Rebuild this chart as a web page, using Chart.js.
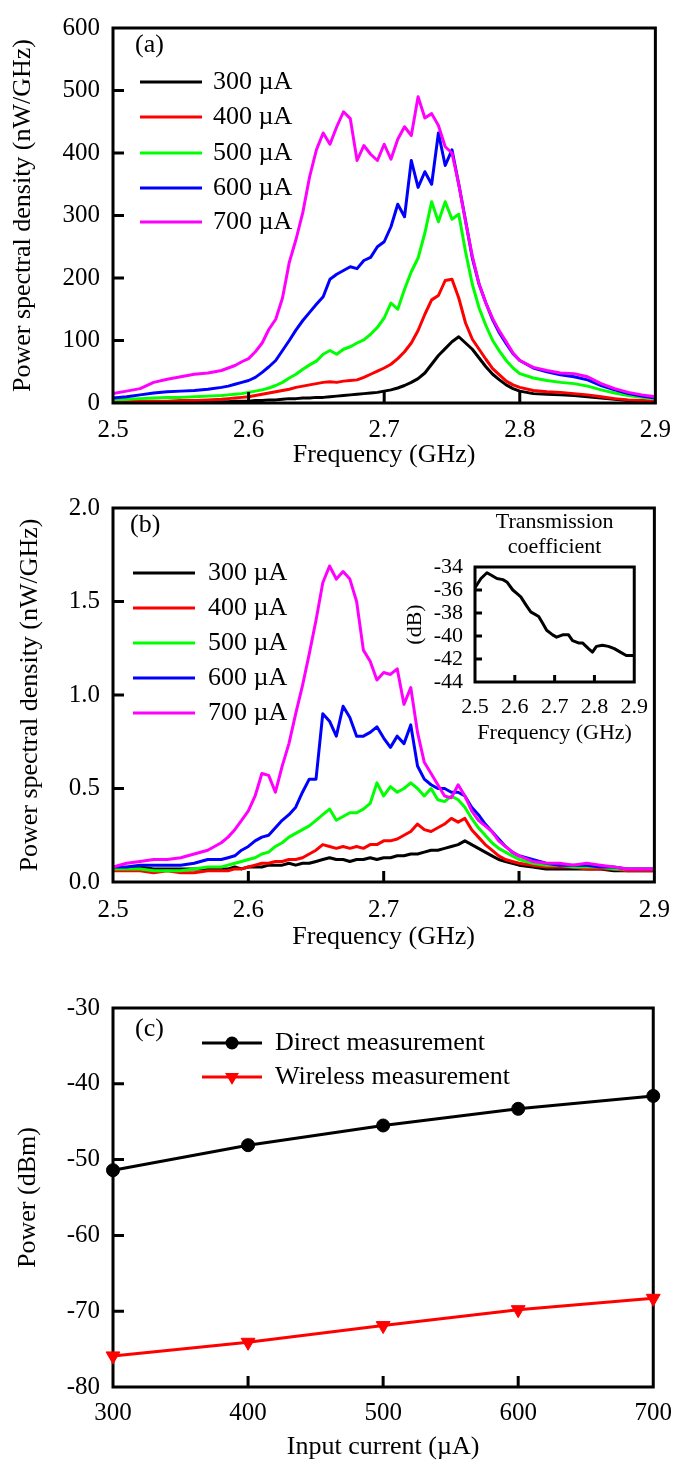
<!DOCTYPE html>
<html>
<head>
<meta charset="utf-8">
<title>Spectra and output power</title>
<script src="https://cdn.jsdelivr.net/npm/chart.js@4.4.1/dist/chart.umd.min.js"></script>
<style>
  html, body { margin: 0; padding: 0; background: #fff; }
  #page { position: relative; width: 683px; height: 1465px; overflow: hidden; }
  #page canvas { position: absolute; left: 0; }
</style>
</head>
<body>
<div id="page">
  <canvas id="chartA" width="683" height="480" style="top:0"></canvas>
  <canvas id="chartB" width="683" height="480" style="top:480px"></canvas>
  <canvas id="chartInset" width="270" height="260" style="top:500px; left:390px"></canvas>
  <canvas id="chartC" width="683" height="485" style="top:980px"></canvas>
</div>
<script>
// frequency samples (GHz), shared by the two spectrum panels
const freqs = [
  2.50, 2.51, 2.52, 2.53, 2.54, 2.55, 2.56, 2.57, 2.58,
  2.585, 2.59, 2.595, 2.60, 2.605, 2.61, 2.615, 2.62, 2.625, 2.63, 2.635,
  2.64, 2.645, 2.65, 2.655, 2.66, 2.665, 2.67, 2.675, 2.68, 2.685, 2.69,
  2.695, 2.70, 2.705, 2.71, 2.715, 2.72, 2.725, 2.73, 2.735, 2.74, 2.745,
  2.75, 2.755, 2.76, 2.765, 2.77, 2.775, 2.78, 2.785, 2.79, 2.795, 2.80,
  2.81, 2.82, 2.83, 2.84, 2.85, 2.86, 2.87, 2.88, 2.89, 2.90
];

const currentLabels = ['300 µA', '400 µA', '500 µA', '600 µA', '700 µA'];
const seriesColors = ['#000000', '#ff0000', '#00ff00', '#0000ff', '#ff00ff'];

// (a) PSD, nW/GHz
const psdA300 = [
  1, 1, 1, 2, 2, 2, 2, 2, 2,
  2, 3, 3, 3, 4, 4, 5, 5, 6, 7, 7,
  8, 8, 9, 9, 10, 11, 12, 13, 14, 15, 16,
  17, 19, 21, 24, 28, 33, 39, 48, 62, 76, 87,
  98, 106, 96, 86, 72, 58, 46, 37, 29, 23, 19,
  15, 14, 13, 12, 10, 8, 6, 4, 3, 2
];
const psdA400 = [
  2, 2, 3, 3, 3, 4, 4, 5, 6,
  7, 8, 9, 10, 12, 14, 16, 18, 20, 22, 25,
  27, 29, 31, 33, 34, 33, 35, 36, 37, 41, 46,
  51, 56, 62, 71, 82, 96, 116, 142, 165, 172, 196,
  198, 168, 128, 102, 86, 70, 55, 45, 35, 29, 25,
  20, 18, 17, 15, 13, 10, 7, 5, 4, 3
];
const psdA500 = [
  5, 6, 7, 8, 9, 9, 10, 11, 12,
  13, 14, 15, 17, 19, 21, 24, 28, 33, 40, 46,
  54, 61, 67, 78, 84, 78, 86, 90, 96, 101, 110,
  121, 136, 160, 150, 182, 210, 232, 272, 322, 290, 322,
  294, 302, 242, 190, 152, 124, 100, 83, 68, 56, 47,
  40, 36, 33, 31, 27, 21, 16, 12, 9, 7
];
const psdA600 = [
  8, 10, 13, 16, 18, 19, 20, 22, 25,
  27, 30, 33, 36, 41, 49, 58, 68, 84, 100, 117,
  132, 145, 158, 170, 198, 206, 212, 218, 215, 228, 233,
  250, 258, 282, 318, 298, 388, 345, 370, 350, 432, 380,
  405, 350, 292, 232, 190, 160, 133, 112, 95, 79, 68,
  56, 50, 45, 42, 37, 28, 21, 15, 11, 8
];
const psdA700 = [
  15, 19, 23, 33, 38, 42, 46, 48, 52,
  56, 60, 66, 71, 82, 96, 118, 134, 168, 225, 262,
  305, 362, 405, 432, 414, 442, 466, 455, 388, 412, 398,
  388, 414, 390, 422, 442, 428, 490, 456, 463, 444, 410,
  400, 350, 290, 235, 190, 160, 135, 115, 98, 80, 68,
  57, 52, 48, 47, 42, 31, 23, 17, 13, 10
];

// (b) PSD after the wireless link, nW/GHz
const psdB300 = [
  0.07, 0.07, 0.08, 0.07, 0.07, 0.07, 0.07, 0.07, 0.07,
  0.07, 0.08, 0.07, 0.08, 0.08, 0.08, 0.09, 0.09, 0.09, 0.10, 0.09,
  0.10, 0.10, 0.11, 0.12, 0.13, 0.12, 0.12, 0.11, 0.12, 0.12, 0.13,
  0.12, 0.13, 0.13, 0.14, 0.14, 0.15, 0.15, 0.16, 0.17, 0.17, 0.18,
  0.19, 0.20, 0.22, 0.20, 0.18, 0.16, 0.14, 0.12, 0.11, 0.10, 0.09,
  0.08, 0.07, 0.07, 0.07, 0.07, 0.07, 0.06, 0.06, 0.06, 0.06
];
const psdB400 = [
  0.06, 0.06, 0.06, 0.05, 0.06, 0.05, 0.05, 0.06, 0.06,
  0.06, 0.07, 0.07, 0.08, 0.09, 0.10, 0.10, 0.11, 0.11, 0.12, 0.12,
  0.13, 0.15, 0.17, 0.20, 0.19, 0.18, 0.19, 0.18, 0.19, 0.18, 0.20,
  0.20, 0.22, 0.22, 0.23, 0.25, 0.27, 0.31, 0.28, 0.27, 0.29, 0.31,
  0.34, 0.32, 0.34, 0.28, 0.24, 0.20, 0.17, 0.14, 0.12, 0.11, 0.10,
  0.09, 0.08, 0.08, 0.08, 0.07, 0.07, 0.07, 0.06, 0.06, 0.06
];
const psdB500 = [
  0.07, 0.07, 0.07, 0.06, 0.06, 0.06, 0.07, 0.08, 0.08,
  0.09, 0.10, 0.11, 0.12, 0.13, 0.15, 0.16, 0.19, 0.21, 0.24, 0.26,
  0.28, 0.30, 0.33, 0.36, 0.39, 0.33, 0.35, 0.37, 0.37, 0.39, 0.42,
  0.53, 0.46, 0.51, 0.48, 0.50, 0.53, 0.50, 0.46, 0.50, 0.44, 0.43,
  0.46, 0.44, 0.40, 0.34, 0.29, 0.25, 0.21, 0.18, 0.16, 0.14, 0.12,
  0.10, 0.09, 0.09, 0.08, 0.08, 0.08, 0.07, 0.07, 0.07, 0.07
];
const psdB600 = [
  0.08, 0.08, 0.09, 0.09, 0.09, 0.09, 0.10, 0.12, 0.12,
  0.13, 0.14, 0.17, 0.19, 0.22, 0.24, 0.25, 0.29, 0.33, 0.36, 0.40,
  0.48, 0.55, 0.55, 0.90, 0.86, 0.78, 0.94, 0.88, 0.78, 0.78, 0.80,
  0.83, 0.77, 0.72, 0.78, 0.74, 0.84, 0.62, 0.55, 0.52, 0.50, 0.50,
  0.48, 0.48, 0.46, 0.40, 0.36, 0.31, 0.27, 0.23, 0.19, 0.16, 0.14,
  0.12, 0.10, 0.09, 0.09, 0.09, 0.08, 0.08, 0.07, 0.07, 0.07
];
const psdB700 = [
  0.08, 0.10, 0.11, 0.12, 0.12, 0.13, 0.15, 0.17, 0.21,
  0.24, 0.28, 0.33, 0.38, 0.46, 0.58, 0.57, 0.48, 0.62, 0.74, 0.90,
  1.05, 1.22, 1.40, 1.60, 1.69, 1.62, 1.66, 1.62, 1.50, 1.24, 1.18,
  1.08, 1.12, 1.11, 1.14, 0.95, 1.04, 0.80, 0.64, 0.58, 0.52, 0.46,
  0.45, 0.52, 0.46, 0.38, 0.33, 0.30, 0.27, 0.22, 0.19, 0.16, 0.14,
  0.11, 0.10, 0.10, 0.09, 0.10, 0.09, 0.08, 0.07, 0.07, 0.07
];

// inset: transmission coefficient of the link
const tcFreqs = [
  2.50, 2.515, 2.53, 2.54, 2.555, 2.57, 2.58, 2.595, 2.605, 2.615, 2.63,
  2.64, 2.66, 2.67, 2.68, 2.695, 2.705, 2.72, 2.735, 2.745, 2.76,
  2.77, 2.785, 2.795, 2.805, 2.82, 2.835, 2.85, 2.865, 2.88, 2.90
];
const tcValues = [
  -35.8, -35.0, -34.5, -34.7, -35.0, -35.1, -35.3, -36.0, -36.3, -36.6, -37.4,
  -37.9, -38.3, -38.9, -39.5, -39.9, -40.1, -39.9, -39.9, -40.4, -40.6,
  -40.6, -41.1, -41.4, -40.9, -40.8, -40.9, -41.1, -41.4, -41.7, -41.7
];

// (c) integrated power vs bias current
const currents = [300, 400, 500, 600, 700];
const directPower = [-51.4, -48.1, -45.5, -43.3, -41.6];
const wirelessPower = [-75.9, -74.1, -71.9, -69.8, -68.3];

// tick labels
const freqTicks = [2.5, 2.6, 2.7, 2.8, 2.9];
const psdTicksA = [0, 100, 200, 300, 400, 500, 600];
const psdTicksB = [0, 0.5, 1.0, 1.5, 2.0];
const dbTicks = [-44, -42, -40, -38, -36, -34];
const currentTicks = [300, 400, 500, 600, 700];
const powerTicks = [-80, -70, -60, -50, -40, -30];

const SERIF = '"Liberation Serif", "Times New Roman", serif';
Chart.defaults.font.family = SERIF;
Chart.defaults.color = '#000';

function fixedTicks(values) {
  return scale => { scale.ticks = values.map(v => ({ value: v })); };
}

function pairs(xs, ys) {
  return xs.map((x, i) => ({ x: x, y: ys[i] }));
}

// closed box round the plot area with inward tick marks
const framePlugin = {
  id: 'frame',
  beforeDatasetsDraw(chart, args, opts) {
    if (opts.under) drawFrame(chart, opts);
  },
  afterDatasetsDraw(chart, args, opts) {
    if (!opts.under) drawFrame(chart, opts);
  }
};

function drawFrame(chart, opts) {
  const { ctx, chartArea: a } = chart;
  const xs = chart.scales.x;
  const ys = chart.scales.y;
  ctx.save();
  ctx.strokeStyle = '#000';
  ctx.lineWidth = opts.width;
  ctx.strokeRect(a.left, a.top, a.right - a.left, a.bottom - a.top);
  ctx.beginPath();
  xs.ticks.forEach(t => {
    const px = xs.getPixelForValue(t.value);
    if (px - a.left < 2 || a.right - px < 2) return;
    ctx.moveTo(px, a.bottom);
    ctx.lineTo(px, a.bottom - opts.tick);
  });
  ys.ticks.forEach(t => {
    const py = ys.getPixelForValue(t.value);
    if (py - a.top < 2 || a.bottom - py < 2) return;
    ctx.moveTo(a.left, py);
    ctx.lineTo(a.left + opts.tick, py);
  });
  ctx.stroke();
  ctx.restore();
}

function drawMarker(ctx, style, x, y, r) {
  ctx.beginPath();
  if (style === 'circle') {
    ctx.arc(x, y, r, 0, Math.PI * 2);
  } else {
    // downward triangle, same geometry as the library's rotated 'triangle'
    let rad = Math.PI;
    for (let k = 0; k < 3; k++) {
      const px = x + Math.sin(rad) * r;
      const py = y - Math.cos(rad) * r;
      if (k === 0) ctx.moveTo(px, py); else ctx.lineTo(px, py);
      rad += Math.PI * 2 / 3;
    }
    ctx.closePath();
  }
  ctx.fill();
}

// panel letter, in-plot key and headings
const keyPlugin = {
  id: 'key',
  afterDraw(chart, args, opts) {
    const ctx = chart.ctx;
    ctx.save();
    ctx.font = opts.size + 'px ' + SERIF;
    ctx.textBaseline = 'middle';
    ctx.fillStyle = '#000';
    if (opts.tag) {
      ctx.textAlign = 'left';
      ctx.fillText(opts.tag, opts.tagX, opts.tagY);
    }
    if (opts.heading) {
      const cx = (chart.chartArea.left + chart.chartArea.right) / 2;
      ctx.textAlign = 'center';
      opts.heading.forEach((line, i) => ctx.fillText(line, cx, opts.headingY[i]));
    }
    ctx.textAlign = 'left';
    (opts.rows || []).forEach((y, i) => {
      const ds = chart.data.datasets[i];
      ctx.strokeStyle = ds.borderColor;
      ctx.lineWidth = 3;
      ctx.lineCap = 'butt';
      ctx.beginPath();
      ctx.moveTo(opts.x0, y);
      ctx.lineTo(opts.x1, y);
      ctx.stroke();
      if (ds.pointRadius > 0) {
        ctx.fillStyle = ds.backgroundColor;
        drawMarker(ctx, ds.pointStyle, (opts.x0 + opts.x1) / 2, y, ds.pointRadius);
      }
      ctx.fillStyle = '#000';
      ctx.fillText(ds.label, opts.textX, y);
    });
    ctx.restore();
  }
};

function axisX(min, max, ticks, fmt, o) {
  return {
    type: 'linear', min: min, max: max,
    afterBuildTicks: fixedTicks(ticks),
    afterFit: s => { s.height = o.height; },
    grid: { display: false, drawTicks: false },
    border: { display: false },
    ticks: { font: { size: o.tickSize }, padding: o.pad, callback: fmt, maxRotation: 0, autoSkip: false },
    title: { display: true, text: o.title, font: { size: o.titleSize }, padding: { top: 0, bottom: o.titlePad } }
  };
}

function axisY(min, max, ticks, fmt, o) {
  return {
    type: 'linear', min: min, max: max,
    afterBuildTicks: fixedTicks(ticks),
    afterFit: s => { s.width = o.width; },
    grid: { display: false, drawTicks: false },
    border: { display: false },
    ticks: { font: { size: o.tickSize }, padding: o.pad, callback: fmt, autoSkip: false },
    title: { display: true, text: o.title, font: { size: o.titleSize }, padding: { top: o.titlePad, bottom: 0 } }
  };
}

const oneDecimal = v => Number(v).toFixed(1);
const plain = v => String(v);

function spectrumChart(id, series, yMax, yTicks, yFmt, layout, key) {
  return new Chart(document.getElementById(id), {
    type: 'line',
    data: {
      datasets: series.map((vals, i) => ({
        label: currentLabels[i],
        data: pairs(freqs, vals),
        borderColor: seriesColors[i],
        borderWidth: 3,
        borderJoinStyle: 'round',
        pointRadius: 0,
        tension: 0,
        order: series.length - 1 - i
      }))
    },
    options: {
      responsive: false,
      animation: false,
      events: [],
      layout: { padding: { top: layout.top, right: 20, bottom: 0, left: 0 } },
      scales: {
        x: axisX(2.5, 2.9, freqTicks, oneDecimal,
          { height: layout.xHeight, tickSize: 25, pad: layout.xPad, title: 'Frequency (GHz)', titleSize: 26, titlePad: layout.xTitlePad }),
        y: axisY(0, yMax, yTicks, yFmt,
          { width: 113, tickSize: 25, pad: 13, title: 'Power spectral density (nW/GHz)', titleSize: 26, titlePad: layout.yTitlePad })
      },
      plugins: {
        legend: { display: false },
        tooltip: { enabled: false },
        frame: { width: 3, tick: 11 },
        key: key
      }
    },
    plugins: [framePlugin, keyPlugin]
  });
}

spectrumChart('chartA', [psdA300, psdA400, psdA500, psdA600, psdA700], 600, psdTicksA, plain,
  { top: 21, xHeight: 77, xPad: 12, xTitlePad: 9, yTitlePad: 8 },
  { size: 26, tag: '(a)', tagX: 135, tagY: 45, x0: 140, x1: 202, textX: 213, rows: [82, 117, 153, 188, 222] });

spectrumChart('chartB', [psdB300, psdB400, psdB500, psdB600, psdB700], 2, psdTicksB, oneDecimal,
  { top: 19, xHeight: 78, xPad: 13, xTitlePad: 7, yTitlePad: 15 },
  { size: 26, tag: '(b)', tagX: 130, tagY: 45, x0: 133, x1: 195, textX: 208, rows: [93, 128, 163, 198, 233] });

// inset over panel (b)
new Chart(document.getElementById('chartInset'), {
  type: 'line',
  data: {
    datasets: [{
      label: 'Transmission coefficient',
      data: pairs(tcFreqs, tcValues),
      borderColor: '#000',
      borderWidth: 3,
      borderJoinStyle: 'round',
      pointRadius: 0,
      tension: 0
    }]
  },
  options: {
    responsive: false,
    animation: false,
    events: [],
    layout: { padding: { top: 67, right: 20, bottom: 0, left: 0 } },
    scales: {
      x: axisX(2.5, 2.9, freqTicks, oneDecimal,
        { height: 78, tickSize: 22, pad: 12, title: 'Frequency (GHz)', titleSize: 22, titlePad: 14 }),
      y: axisY(-44, -34, dbTicks, plain,
        { width: 85, tickSize: 22, pad: 12, title: '(dB)', titleSize: 22, titlePad: 12 })
    },
    plugins: {
      legend: { display: false },
      tooltip: { enabled: false },
      frame: { width: 3, tick: 7 },
      key: { size: 22, heading: ['Transmission', 'coefficient'], headingY: [22, 47] }
    }
  },
  plugins: [framePlugin, keyPlugin]
});

// (c) power vs current
new Chart(document.getElementById('chartC'), {
  type: 'line',
  data: {
    datasets: [
      {
        label: 'Direct measurement',
        data: pairs(currents, directPower),
        borderColor: '#000000',
        backgroundColor: '#000000',
        borderWidth: 3,
        pointStyle: 'circle',
        pointRadius: 6.5,
        pointBorderWidth: 1,
        clip: false
      },
      {
        label: 'Wireless measurement',
        data: pairs(currents, wirelessPower),
        borderColor: '#ff0000',
        backgroundColor: '#ff0000',
        borderWidth: 3,
        pointStyle: 'triangle',
        pointRotation: 180,
        pointRadius: 8,
        pointBorderWidth: 1,
        clip: false
      }
    ]
  },
  options: {
    responsive: false,
    animation: false,
    events: [],
    layout: { padding: { top: 23, right: 20, bottom: 0, left: 0 } },
    scales: {
      x: axisX(300, 700, currentTicks, plain,
        { height: 78, tickSize: 25, pad: 11, title: 'Input current (µA)', titleSize: 26, titlePad: 2 }),
      y: axisY(-80, -30, powerTicks, plain,
        { width: 113, tickSize: 25, pad: 13, title: 'Power (dBm)', titleSize: 26, titlePad: 13 })
    },
    plugins: {
      legend: { display: false },
      tooltip: { enabled: false },
      frame: { width: 3, tick: 11, under: true },
      key: { size: 26, tag: '(c)', tagX: 135, tagY: 49, x0: 202, x1: 262, textX: 275, rows: [63, 97] }
    }
  },
  plugins: [framePlugin, keyPlugin]
});
</script>
</body>
</html>
